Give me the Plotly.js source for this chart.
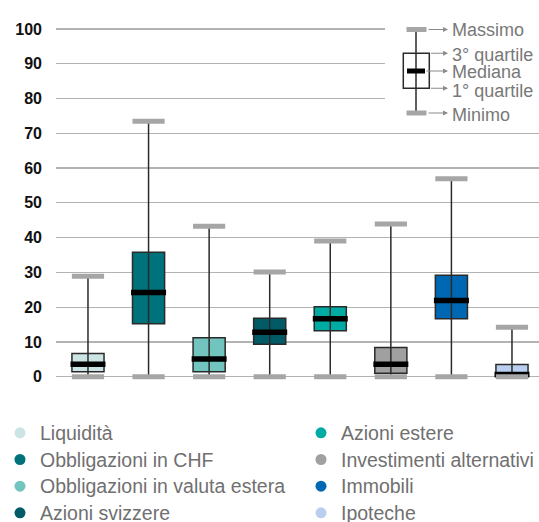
<!DOCTYPE html>
<html><head><meta charset="utf-8">
<script src="https://cdn.plot.ly/plotly-3.0.1.min.js"></script>
<style>html,body{margin:0;padding:0;background:#fff}</style>
</head><body><div id="chart" style="width:539px;height:522px"></div>
<script>
// ---- data ----
const categories = ['Liquidità','Obbligazioni in CHF','Obbligazioni in valuta estera','Azioni svizzere','Azioni estere','Investimenti alternativi','Immobili','Ipoteche'];
const minimum   = [0, 0, 0, 0, 0, 0, 0, 0];
const quartile1 = [1.4, 15.2, 1.4, 9.3, 13.2, 1.0, 16.7, 0];
const median    = [3.6, 24.2, 5.1, 12.8, 16.7, 3.6, 21.9, 0.6];
const quartile3 = [6.7, 35.8, 11.2, 16.8, 20.1, 8.4, 29.2, 3.5];
const maximum   = [28.9, 73.5, 43.3, 30.1, 39.0, 43.9, 56.9, 14.2];
const yTicks = [0, 10, 20, 30, 40, 50, 60, 70, 80, 90, 100];
const keyLabels = ['Massimo', '3° quartile', 'Mediana', '1° quartile', 'Minimo'];

// ---- styles ----
const colors = ['#cae5e3', '#00727c', '#72c5be', '#005b67', '#00aba3', '#a0a0a0', '#0068b3', '#bacff0'];
const legendCol = [0, 0, 0, 0, 1, 1, 1, 1];

const traces = [];
traces.push({
  type: 'bar', x: categories, base: quartile1,
  y: quartile3.map((v, i) => v - quartile1[i]),
  width: 0.53, showlegend: false, hoverinfo: 'skip',
  marker: {color: colors, line: {color: '#2a2a2a', width: 1.5}}
});
const wx = [], wy = [];
categories.forEach((c, i) => { wx.push(c, c, null); wy.push(minimum[i], maximum[i], null); });
traces.push({type: 'scatter', mode: 'lines', x: wx, y: wy, showlegend: false, hoverinfo: 'skip',
  line: {color: '#2a2a2a', width: 1.5}});
traces.push({type: 'scatter', mode: 'markers', x: categories, y: median, showlegend: false, hoverinfo: 'skip',
  marker: {symbol: 'line-ew', size: 25, color: '#000', line: {color: '#000', width: 5.5}}});
traces.push({type: 'scatter', mode: 'markers', x: categories.concat(categories), y: minimum.concat(maximum),
  showlegend: false, hoverinfo: 'skip', cliponaxis: false,
  marker: {symbol: 'line-ew', size: 23, color: '#a6a6a6', line: {color: '#a6a6a6', width: 5}}});
categories.forEach((c, i) => {
  traces.push({type: 'scatter', mode: 'markers', x: [null], y: [null],
    name: '<span style="font-size:19.5px">' + c + '</span>',
    legend: legendCol[i] ? 'legend2' : 'legend',
    marker: {color: colors[i], size: 11}, hoverinfo: 'skip'});
});

// ---- key (explanatory inset) ----
const L = 56, W = 483, T = 19, H = 368;
const px = v => (v - L) / W;
const py = v => (T + H - v) / H;
const shapes = [
  {type: 'rect', xref: 'paper', yref: 'paper', x0: px(385), x1: px(539), y0: py(125), y1: py(18), fillcolor: '#fff', line: {width: 0}, layer: 'above'},
  {type: 'line', xref: 'paper', yref: 'paper', x0: px(416), x1: px(416), y0: py(29.5), y1: py(113), line: {color: '#2a2a2a', width: 1.5}, layer: 'above'},
  {type: 'rect', xref: 'paper', yref: 'paper', x0: px(403.3), x1: px(429.3), y0: py(88.3), y1: py(53.3), fillcolor: 'rgba(0,0,0,0)', line: {color: '#2a2a2a', width: 1.5}, layer: 'above'},
  {type: 'line', xref: 'paper', yref: 'paper', x0: px(407), x1: px(425), y0: py(71), y1: py(71), line: {color: '#000', width: 5}, layer: 'above'},
  {type: 'line', xref: 'paper', yref: 'paper', x0: px(406.5), x1: px(426.5), y0: py(29.5), y1: py(29.5), line: {color: '#a6a6a6', width: 5}, layer: 'above'},
  {type: 'line', xref: 'paper', yref: 'paper', x0: px(406.5), x1: px(426.5), y0: py(113), y1: py(113), line: {color: '#a6a6a6', width: 5}, layer: 'above'}
];
const arrowRows = [[427, 29.5], [429.5, 53.3], [425, 71], [429.5, 88.3], [427, 113]];
const textRows = [30, 55, 72, 91, 115];
const annotations = [];
arrowRows.forEach((r, i) => {
  annotations.push({xref: 'paper', yref: 'paper', x: px(448), y: py(r[1]), ax: r[0] - 448, ay: 0, text: '',
    showarrow: true, arrowhead: 2, arrowsize: 0.9, arrowwidth: 1.1, arrowcolor: '#8a8a8a'});
  annotations.push({xref: 'paper', yref: 'paper', x: px(449.5), y: py(textRows[i]), xanchor: 'left', yanchor: 'middle',
    text: keyLabels[i], showarrow: false, font: {family: 'Arial', size: 18, color: '#787878'}});
});

const legendBase = {xref: 'container', yref: 'container', xanchor: 'left', yanchor: 'top',
  bgcolor: 'rgba(0,0,0,0)', font: {family: 'Arial', size: 18.2, color: '#707070'}, traceorder: 'normal'};

const layout = {
  width: 539, height: 522,
  margin: {l: L, r: 0, t: T, b: 522 - T - H, pad: 0, autoexpand: false},
  paper_bgcolor: '#fff', plot_bgcolor: '#fff',
  showlegend: true,
  xaxis: {type: 'category', range: [-0.528, 7.446], showticklabels: false, showgrid: false, zeroline: false, showline: false, ticks: '', automargin: false},
  yaxis: {range: [-2.962, 102.876], tickvals: yTicks, ticktext: yTicks.map(String), showgrid: true, automargin: false,
    gridcolor: '#b3b3b3', gridwidth: 1.2, zeroline: false, showline: false, ticks: '',
    ticklabelstandoff: 13, tickfont: {family: 'Arial', size: 16, color: '#111', weight: 'bold'}},
  legend: Object.assign({x: 0, y: 1 - 414.5 / 522}, legendBase),
  legend2: Object.assign({x: 301 / 539, y: 1 - 414.5 / 522}, legendBase),
  shapes: shapes, annotations: annotations
};
Plotly.newPlot('chart', traces, layout, {staticPlot: true, displayModeBar: false});
</script></body></html>
